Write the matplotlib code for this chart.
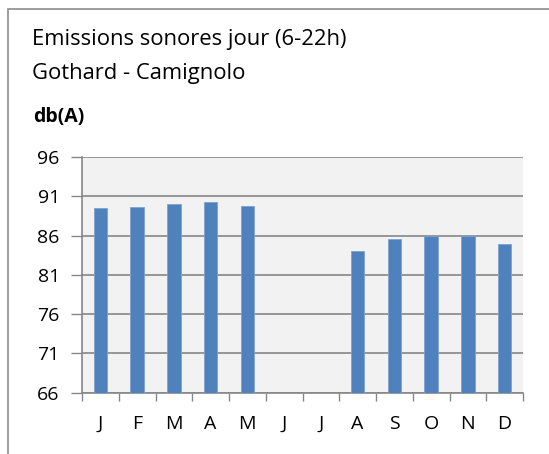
import numpy as np
import matplotlib.pyplot as plt
from matplotlib.patches import Rectangle

# Data
months = ['J', 'F', 'M', 'A', 'M', 'J', 'J', 'A', 'S', 'O', 'N', 'D']
db_day = [89.5, 89.6, 90.0, 90.3, 89.8, np.nan, np.nan, 84.0, 85.5, 86.0, 86.0, 84.9]
y_ticks = [66, 71, 76, 81, 86, 91, 96]

plt.rcParams['font.family'] = ['Open Sans', 'DejaVu Sans']

fig = plt.figure(figsize=(5.49, 4.54), dpi=100)

# outer chart border
fig.patches.append(Rectangle((8 / 549, -0.1), 1.2, 1.1 - 9 / 454, transform=fig.transFigure,
                             fill=False, edgecolor='#8c8c8c', linewidth=1.2))

ax = fig.add_axes([82 / 549, (454 - 392.7) / 454, 441 / 549, 235.7 / 454])
ax.set_facecolor('#f2f2f2')

x = np.arange(len(months))
ax.bar(x, db_day, width=0.37, color='#4f81bd', edgecolor='#7ea2d0', linewidth=0.6, zorder=3)

ax.set_xlim(-0.5, 11.5)
ax.set_ylim(66, 96)
ax.set_yticks(y_ticks)
ax.yaxis.grid(True, color='#878787', linewidth=1.2, zorder=1)
ax.set_axisbelow(True)

# boundaries get tick marks, centers get labels
ax.set_xticks(np.arange(-0.5, 12, 1))
ax.set_xticklabels([])
ax.set_xticks(x, minor=True)
ax.set_xticklabels(months, minor=True)
ax.tick_params(axis='x', which='major', length=6, color='#878787', width=1)
ax.tick_params(axis='x', which='minor', length=0, pad=16, labelsize=14)
ax.tick_params(axis='y', length=8, color='#878787', width=1, pad=8, labelsize=14)

for s in ['top', 'right']:
    ax.spines[s].set_visible(False)
for s in ['left', 'bottom']:
    ax.spines[s].set_color('#878787')
    ax.spines[s].set_linewidth(1.2)

fig.text(32 / 549, 1 - 40 / 454, 'Emissions sonores jour (6-22h)', fontsize=15.8, va='center')
fig.text(32 / 549, 1 - 73 / 454, 'Gothard - Camignolo', fontsize=15.8, va='center')
fig.text(33 / 549, 1 - 117 / 454, 'db(A)', fontsize=14, fontweight='bold', va='center')

fig.savefig('out.png', dpi=100)
